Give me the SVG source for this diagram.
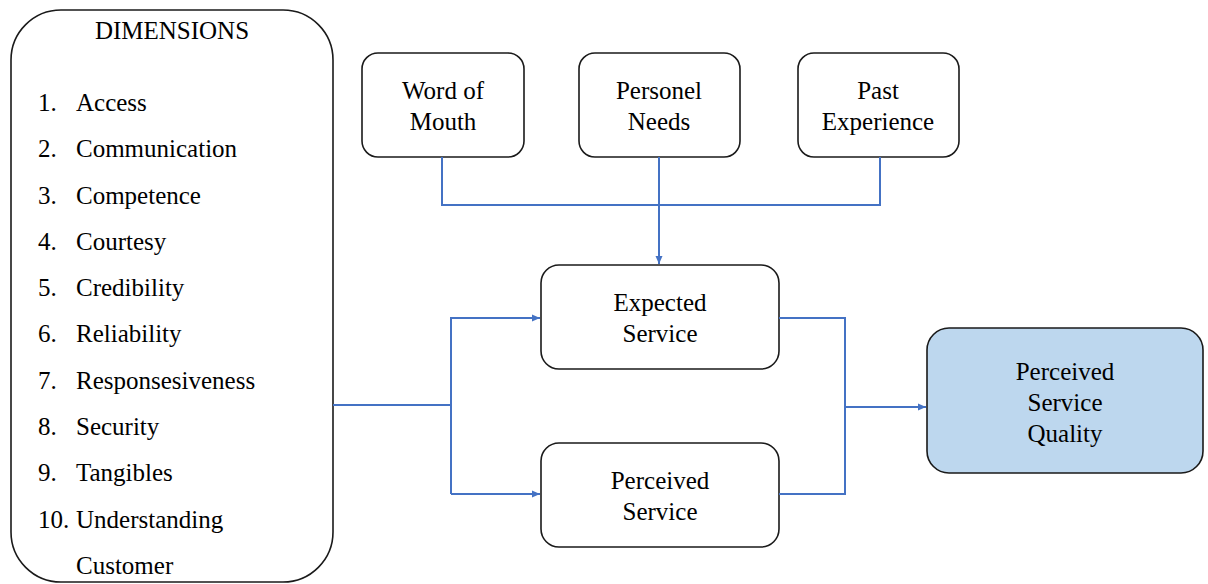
<svg xmlns="http://www.w3.org/2000/svg" width="1208" height="584" viewBox="0 0 1208 584">
  <defs>
    <marker id="arrow" markerWidth="10" markerHeight="10" refX="9" refY="5" orient="auto" markerUnits="userSpaceOnUse">
      <path d="M1,1.5 L9,5 L1,8.5 Z" fill="#4472C4"/>
    </marker>
    <style>
      .shape-box { fill: #ffffff; stroke: #1a1a1a; stroke-width: 1.6; }
      .shape-result { fill: #BDD7EE; stroke: #1a1a1a; stroke-width: 1.6; }
      svg text.diagram-label { font-family: 'Liberation Serif', serif; font-size: 25px; fill: #000000; }
      svg text.label-mid { text-anchor: middle; }
      .flow-link { fill: none; stroke: #4472C4; stroke-width: 2; }
    </style>
  </defs>
  <rect width="1208" height="584" fill="#ffffff"/>

  <!-- Dimensions list -->
  <g id="dimensions">
    <rect class="shape-box" x="11" y="10" width="322" height="572" rx="50" ry="50"/>
    <text class="diagram-label label-mid" x="172" y="39">DIMENSIONS</text>
    <text class="diagram-label" x="38" y="111">1.</text><text class="diagram-label" x="76" y="111">Access</text>
    <text class="diagram-label" x="38" y="157">2.</text><text class="diagram-label" x="76" y="157">Communication</text>
    <text class="diagram-label" x="38" y="204">3.</text><text class="diagram-label" x="76" y="204">Competence</text>
    <text class="diagram-label" x="38" y="250">4.</text><text class="diagram-label" x="76" y="250">Courtesy</text>
    <text class="diagram-label" x="38" y="296">5.</text><text class="diagram-label" x="76" y="296">Credibility</text>
    <text class="diagram-label" x="38" y="342">6.</text><text class="diagram-label" x="76" y="342">Reliability</text>
    <text class="diagram-label" x="38" y="389">7.</text><text class="diagram-label" x="76" y="389">Responsesiveness</text>
    <text class="diagram-label" x="38" y="435">8.</text><text class="diagram-label" x="76" y="435">Security</text>
    <text class="diagram-label" x="38" y="481">9.</text><text class="diagram-label" x="76" y="481">Tangibles</text>
    <text class="diagram-label" x="38" y="528">10.</text><text class="diagram-label" x="76" y="528">Understanding</text>
    <text class="diagram-label" x="76" y="574">Customer</text>
  </g>

  <g id="word-of-mouth">
    <rect class="shape-box" x="362" y="53" width="162" height="104" rx="16" ry="16"/>
    <text class="diagram-label label-mid" x="443" y="99">Word of</text>
    <text class="diagram-label label-mid" x="443" y="130">Mouth</text>
  </g>

  <g id="personel-needs">
    <rect class="shape-box" x="579" y="53" width="161" height="104" rx="16" ry="16"/>
    <text class="diagram-label label-mid" x="659" y="99">Personel</text>
    <text class="diagram-label label-mid" x="659" y="130">Needs</text>
  </g>

  <g id="past-experience">
    <rect class="shape-box" x="798" y="53" width="161" height="104" rx="16" ry="16"/>
    <text class="diagram-label label-mid" x="878" y="99">Past</text>
    <text class="diagram-label label-mid" x="878" y="130">Experience</text>
  </g>

  <g id="expected-service">
    <rect class="shape-box" x="541" y="265" width="238" height="104" rx="18" ry="18"/>
    <text class="diagram-label label-mid" x="660" y="311">Expected</text>
    <text class="diagram-label label-mid" x="660" y="342">Service</text>
  </g>

  <g id="perceived-service">
    <rect class="shape-box" x="541" y="443" width="238" height="104" rx="18" ry="18"/>
    <text class="diagram-label label-mid" x="660" y="489">Perceived</text>
    <text class="diagram-label label-mid" x="660" y="520">Service</text>
  </g>

  <g id="perceived-service-quality">
    <rect class="shape-result" x="927" y="328" width="276" height="145" rx="22" ry="22"/>
    <text class="diagram-label label-mid" x="1065" y="380">Perceived</text>
    <text class="diagram-label label-mid" x="1065" y="411">Service</text>
    <text class="diagram-label label-mid" x="1065" y="442">Quality</text>
  </g>

  <!-- Connectors -->
  <g id="connectors">
    <path class="flow-link" d="M442,157 V205 H880 V157"/>
    <path class="flow-link" d="M659,157 V264" marker-end="url(#arrow)"/>
    <path class="flow-link" d="M333,405 H451"/>
    <path class="flow-link" d="M451,494 V318 H540" marker-end="url(#arrow)"/>
    <path class="flow-link" d="M451,494 H540" marker-end="url(#arrow)"/>
    <path class="flow-link" d="M779,318 H845 V494 H779"/>
    <path class="flow-link" d="M845,407 H926" marker-end="url(#arrow)"/>
  </g>
</svg>
